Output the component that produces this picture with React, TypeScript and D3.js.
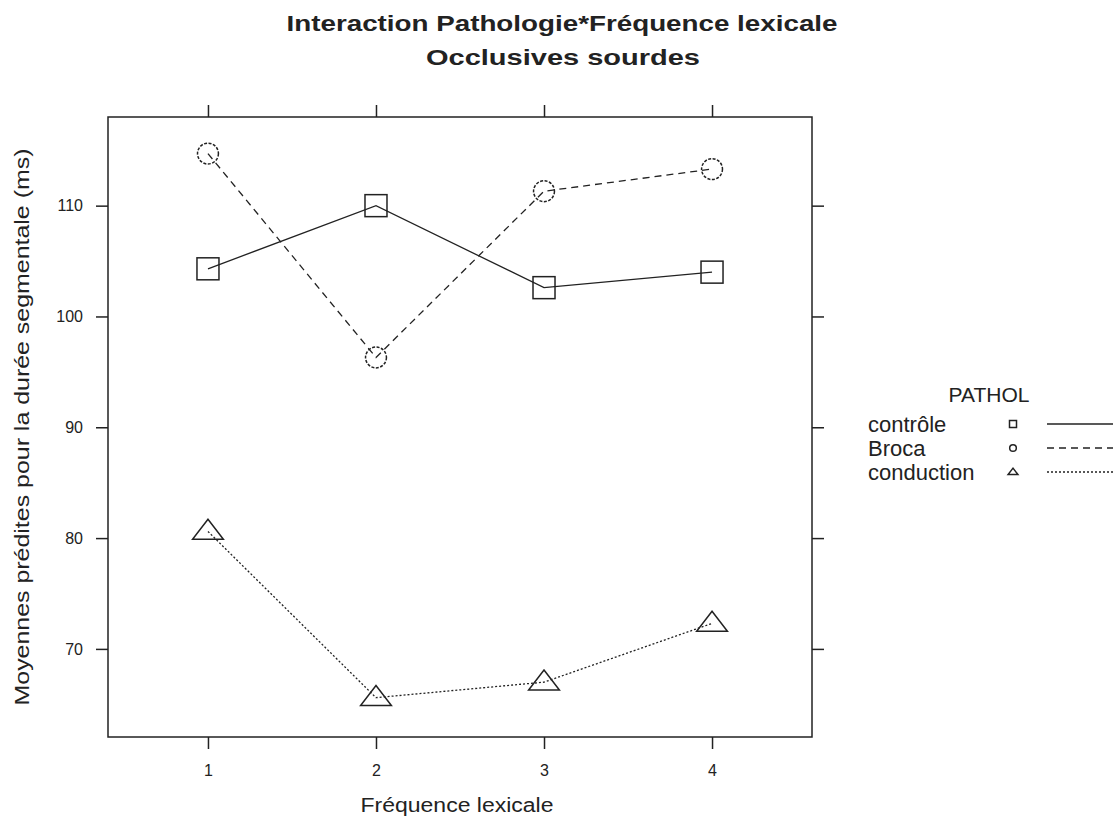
import { useRef, useEffect } from 'react';
import * as d3 from 'd3';

const frequences = [1, 2, 3, 4];
const yTicks = [70, 80, 90, 100, 110];
const controle = [104.3, 110.0, 102.6, 104.0];
const broca = [114.7, 96.3, 111.3, 113.3];
const conduction = [80.6, 65.6, 67.0, 72.3];

const groupes = [
  { nom: 'contrôle', valeurs: controle, symbole: 'square', trait: '' },
  { nom: 'Broca', valeurs: broca, symbole: 'circle', trait: '7,5' },
  { nom: 'conduction', valeurs: conduction, symbole: 'triangle', trait: '2,2' },
];

export default function App() {
  const svgRef = useRef<SVGSVGElement | null>(null);

  useEffect(() => {
    const width = 1116, height = 821;
    const svg = d3.select(svgRef.current);
    svg.selectAll('*').remove();
    svg.attr('width', width).attr('height', height)
      .style('font-family', 'Liberation Sans, Arial, sans-serif');

    const box = { left: 108, right: 812, top: 117, bottom: 737 };
    const x = d3.scaleLinear().domain([0.405, 4.595]).range([box.left, box.right]);
    const y = d3.scaleLinear().domain([62.05, 118.0]).range([box.bottom, box.top]);
    const ink = '#222';

    // titre (police plus large que Arial dans l'original -> textLength)
    svg.append('text').attr('x', 562).attr('y', 31).attr('text-anchor', 'middle')
      .style('font-size', '22px').style('font-weight', 'bold').attr('fill', ink)
      .attr('textLength', 551).attr('lengthAdjust', 'spacingAndGlyphs')
      .text('Interaction Pathologie*Fréquence lexicale');
    svg.append('text').attr('x', 563).attr('y', 65).attr('text-anchor', 'middle')
      .style('font-size', '22px').style('font-weight', 'bold').attr('fill', ink)
      .attr('textLength', 274).attr('lengthAdjust', 'spacingAndGlyphs')
      .text('Occlusives sourdes');

    // cadre
    svg.append('rect').attr('x', box.left).attr('y', box.top)
      .attr('width', box.right - box.left).attr('height', box.bottom - box.top)
      .attr('fill', 'none').attr('stroke', ink).attr('stroke-width', 1.5);

    // axes (ticks de tous les côtés, labels en bas et à gauche)
    const bottom = svg.append('g').attr('transform', `translate(0,${box.bottom})`)
      .call(d3.axisBottom(x).tickValues(frequences).tickSize(12).tickPadding(16).tickFormat(d3.format('d')));
    const top = svg.append('g').attr('transform', `translate(0,${box.top})`)
      .call(d3.axisTop(x).tickValues(frequences).tickSize(12).tickFormat(() => ''));
    const left = svg.append('g').attr('transform', `translate(${box.left},0)`)
      .call(d3.axisLeft(y).tickValues(yTicks).tickSize(12).tickPadding(13).tickFormat(d3.format('d')));
    const right = svg.append('g').attr('transform', `translate(${box.right},0)`)
      .call(d3.axisRight(y).tickValues(yTicks).tickSize(12).tickFormat(() => ''));
    [bottom, top, left, right].forEach((g) => {
      g.select('.domain').remove();
      g.selectAll('line').attr('stroke', ink).attr('stroke-width', 1.5);
      g.selectAll('text').style('font-size', '16px').attr('fill', ink)
        .style('font-family', 'Liberation Sans, Arial, sans-serif');
    });

    // titres des axes
    svg.append('text').attr('x', 457).attr('y', 812).attr('text-anchor', 'middle')
      .style('font-size', '20px').attr('fill', ink)
      .attr('textLength', 193).attr('lengthAdjust', 'spacingAndGlyphs')
      .text('Fréquence lexicale');
    svg.append('text').attr('transform', 'translate(29,427) rotate(-90)').attr('text-anchor', 'middle')
      .style('font-size', '20px').attr('fill', ink)
      .attr('textLength', 557).attr('lengthAdjust', 'spacingAndGlyphs')
      .text('Moyennes prédites pour la durée segmentale (ms)');

    const symbol = (g: any, kind: string, cx: number, cy: number, s: number, dash: string) => {
      if (kind === 'square') {
        g.append('rect').attr('x', cx - s).attr('y', cy - s).attr('width', 2 * s).attr('height', 2 * s)
          .attr('fill', 'none').attr('stroke', ink).attr('stroke-width', 1.5);
      } else if (kind === 'circle') {
        g.append('circle').attr('cx', cx).attr('cy', cy).attr('r', s * 0.95)
          .attr('fill', 'none').attr('stroke', ink).attr('stroke-width', 1.5)
          .attr('stroke-dasharray', dash && s > 6 ? '3,1.5' : null);
      } else {
        const h = s * 1.3;
        g.append('path')
          .attr('d', `M${cx},${cy - h * 0.85}L${cx + s * 1.4},${cy + h * 0.55}L${cx - s * 1.4},${cy + h * 0.55}Z`)
          .attr('fill', 'none').attr('stroke', ink).attr('stroke-width', 1.5);
      }
    };

    // séries
    const line = d3.line<number>().x((d, i) => x(frequences[i])).y((d) => y(d));
    groupes.forEach((gr) => {
      svg.append('path').datum(gr.valeurs).attr('d', line)
        .attr('fill', 'none').attr('stroke', ink).attr('stroke-width', 1.3)
        .attr('stroke-dasharray', gr.trait || null);
      gr.valeurs.forEach((v, i) => symbol(svg, gr.symbole, x(frequences[i]), y(v), 11, gr.trait));
    });

    // légende
    svg.append('text').attr('x', 989).attr('y', 402).attr('text-anchor', 'middle')
      .style('font-size', '21px').attr('fill', ink).text('PATHOL');
    groupes.forEach((gr, i) => {
      const ly = 424 + i * 24;
      svg.append('text').attr('x', 868).attr('y', ly + 8).style('font-size', '22px')
        .attr('fill', ink).text(gr.nom);
      symbol(svg, gr.symbole, 1013, ly, 3.5, gr.trait);
      svg.append('line').attr('x1', 1047).attr('x2', 1113).attr('y1', ly).attr('y2', ly)
        .attr('stroke', ink).attr('stroke-width', 1.3).attr('stroke-dasharray', gr.trait || null);
    });
  }, []);

  return <svg ref={svgRef} style={{ position: 'absolute', left: 0, top: 0 }}></svg>;
}
